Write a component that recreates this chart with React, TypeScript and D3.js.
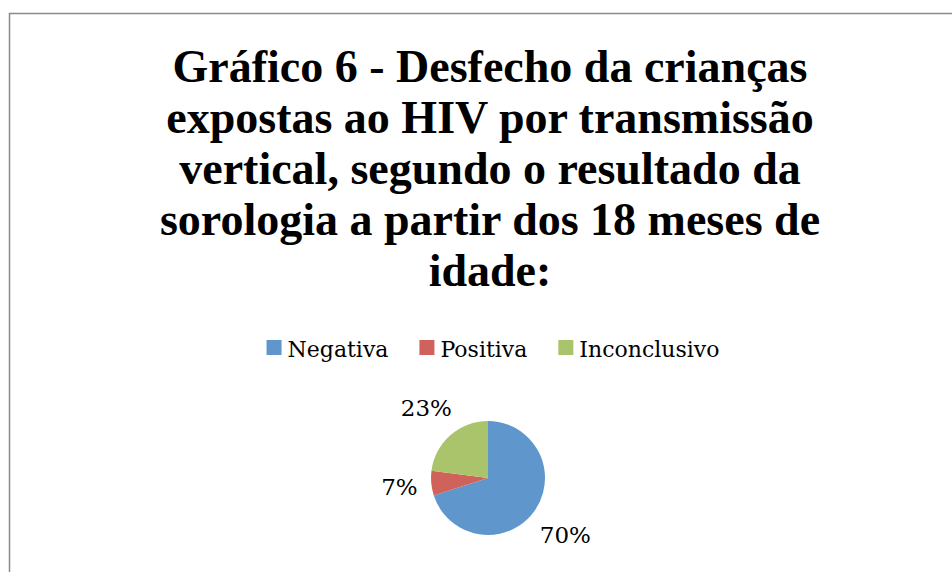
import React, { useEffect, useRef } from "react";
import * as d3 from "d3";

const titleLines = [
  "Gráfico 6 - Desfecho da crianças",
  "expostas ao HIV por transmissão",
  "vertical, segundo o resultado da",
  "sorologia a partir dos 18 meses de",
  "idade:",
];
const categories = ["Negativa", "Positiva", "Inconclusivo"];
const values = [70, 7, 23];
const labels = ["70%", "7%", "23%"];
const colors = ["#5F97CD", "#CF635B", "#AAC46B"];

export default function App() {
  const ref = useRef<SVGSVGElement>(null);
  useEffect(() => {
    const svg = d3.select(ref.current);
    svg.selectAll("*").remove();
    const W = 952, H = 572;
    svg.append("rect").attr("width", W).attr("height", H).attr("fill", "white");
    svg.append("rect")
      .attr("x", 9.5).attr("y", 13.5).attr("width", W).attr("height", H)
      .attr("fill", "white").attr("stroke", "#8a8a8a").attr("stroke-width", 1.5);

    const cx = 490;
    const title = svg.append("text")
      .attr("text-anchor", "middle")
      .attr("font-family", "Liberation Serif")
      .attr("font-weight", "bold")
      .attr("font-size", 46)
      .attr("fill", "#000");
    titleLines.forEach((l, i) =>
      title.append("tspan").attr("x", cx).attr("y", 82 + i * 51).text(l)
    );

    // legend
    const lg = svg.append("g");
    let x = 0;
    categories.forEach((c, i) => {
      lg.append("rect").attr("x", x).attr("y", 340).attr("width", 15).attr("height", 15).attr("fill", colors[i]);
      const t = lg.append("text").attr("x", x + 21).attr("y", 357)
        .attr("font-family", "DejaVu Serif").attr("font-size", 22).attr("fill", "#000").text(c);
      const w = (t.node() as SVGTextElement).getComputedTextLength();
      x += 21 + w + 31;
    });
    const total = x - 31;
    lg.attr("transform", `translate(${493 - total / 2},0)`);

    // pie
    const pcx = 488, pcy = 478, r = 57;
    const pie = d3.pie<number>().sort(null).value((d) => d)(values);
    const arc = d3.arc<d3.PieArcDatum<number>>().innerRadius(0).outerRadius(r);
    const g = svg.append("g").attr("transform", `translate(${pcx},${pcy})`);
    g.selectAll("path").data(pie).enter().append("path")
      .attr("d", arc as any).attr("fill", (_, i) => colors[i]);
    const labelGap = 70;
    pie.forEach((d, i) => {
      const t = g.append("text")
        .attr("text-anchor", "middle")
        .attr("dy", "0.36em")
        .attr("font-family", "DejaVu Serif").attr("font-size", 23).attr("fill", "#000")
        .text(labels[i]);
      const bb = (t.node() as SVGTextElement).getBBox();
      const hw = bb.width / 2, hh = 8.5;
      const a = (d.startAngle + d.endAngle) / 2;
      const ux = Math.sin(a), uy = -Math.cos(a);
      const dist = labelGap + Math.abs(ux) * hw + Math.abs(uy) * hh;
      t.attr("x", ux * dist).attr("y", uy * dist);
    });
  }, []);
  return (
    <div style={{ position: "absolute", left: 0, top: 0 }}>
      <svg ref={ref} width={952} height={572} style={{ display: "block" }} />
    </div>
  );
}
